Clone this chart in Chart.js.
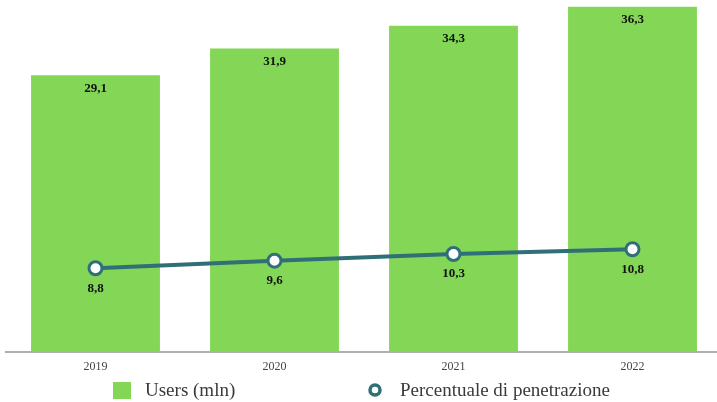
<!DOCTYPE html>
<html>
<head>
<meta charset="utf-8">
<script src="https://cdn.jsdelivr.net/npm/chart.js@4/dist/chart.umd.min.js"></script>
<style>
  html, body { margin: 0; padding: 0; background: #ffffff; overflow: hidden; }
  #wrap { width: 717px; height: 402px; overflow: hidden; }
  canvas { display: block; }
</style>
</head>
<body>
<div id="wrap"><canvas id="c" width="724" height="402"></canvas></div>
<script>
const years = ['2019', '2020', '2021', '2022'];
const usersMln = [29.1, 31.9, 34.3, 36.3];
const penetration = [8.8, 9.6, 10.3, 10.8];
const seriesNames = ['Users (mln)', 'Percentuale di penetrazione'];

const GREEN = '#84d657';
const TEAL = '#2f6f77';
const SERIF = '"Liberation Serif", "Times New Roman", serif';

const fmt = v => v.toFixed(1).replace('.', ',');

// Value labels: inside the top of each bar, below each line point
const valueLabels = {
  id: 'valueLabels',
  afterDatasetsDraw(chart) {
    const ctx = chart.ctx;
    ctx.save();
    ctx.font = 'bold 13px ' + SERIF;
    ctx.fillStyle = '#111';
    ctx.textAlign = 'center';
    ctx.textBaseline = 'middle';
    chart.getDatasetMeta(0).data.forEach((el, i) => {
      ctx.fillText(fmt(chart.data.datasets[0].data[i]), el.x, el.y + 13);
    });
    chart.getDatasetMeta(1).data.forEach((el, i) => {
      ctx.fillText(fmt(chart.data.datasets[1].data[i]), el.x, el.y + 20);
    });
    ctx.restore();
  }
};

// Legend drawn under the axis labels
const bottomLegend = {
  id: 'bottomLegend',
  afterDraw(chart) {
    const ctx = chart.ctx;
    ctx.save();
    ctx.font = '19px ' + SERIF;
    ctx.textBaseline = 'middle';
    const y = 391;
    ctx.fillStyle = GREEN;
    ctx.fillRect(113, 382, 18, 17);
    ctx.fillStyle = '#3a3a3a';
    ctx.fillText(seriesNames[0], 145, y);
    ctx.beginPath();
    ctx.arc(375, 390, 5, 0, Math.PI * 2);
    ctx.fillStyle = '#ffffff';
    ctx.fill();
    ctx.lineWidth = 3.5;
    ctx.strokeStyle = TEAL;
    ctx.stroke();
    ctx.fillStyle = '#3a3a3a';
    ctx.fillText(seriesNames[1], 400, y);
    ctx.restore();
  }
};

new Chart(document.getElementById('c'), {
  data: {
    labels: years,
    datasets: [
      {
        type: 'bar',
        label: seriesNames[0],
        data: usersMln,
        backgroundColor: GREEN,
        borderWidth: 0,
        barPercentage: 0.72,
        categoryPercentage: 1.0,
        order: 2
      },
      {
        type: 'line',
        label: seriesNames[1],
        data: penetration,
        borderColor: TEAL,
        borderWidth: 4,
        pointRadius: 6.5,
        pointHoverRadius: 6.5,
        pointBackgroundColor: '#ffffff',
        pointBorderColor: TEAL,
        pointBorderWidth: 3,
        tension: 0,
        clip: false,
        order: 1
      }
    ]
  },
  options: {
    responsive: false,
    animation: false,
    layout: { autoPadding: false, padding: { left: 6, right: 2, top: 0, bottom: 0 } },
    plugins: {
      legend: { display: false },
      tooltip: { enabled: false }
    },
    scales: {
      x: {
        grid: { display: false, drawTicks: false },
        border: { display: true, color: '#b0b0b0', width: 2 },
        ticks: { font: { family: SERIF, size: 12 }, color: '#444', padding: 8 },
        afterFit(scale) { scale.height = 50; }
      },
      y: {
        display: false,
        min: 0,
        max: 37
      }
    }
  },
  plugins: [valueLabels, bottomLegend]
});
</script>
</body>
</html>
